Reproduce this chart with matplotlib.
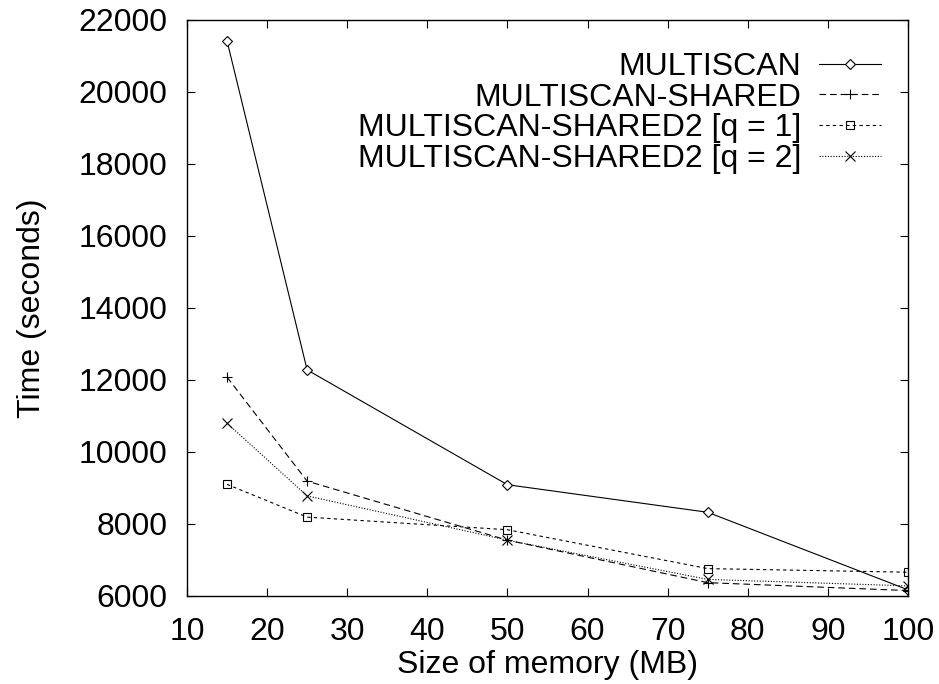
import matplotlib
matplotlib.use("Agg")
import matplotlib.pyplot as plt

plt.rcParams['font.family'] = ['Liberation Sans', 'DejaVu Sans']

memoria = [15, 25, 50, 75, 100]
multiscan = [21420, 12280, 9090, 8325, 6170]
shared = [12080, 9190, 7550, 6370, 6150]
shared2_q1 = [9100, 8190, 7840, 6760, 6660]
shared2_q2 = [10800, 8780, 7550, 6460, 6280]

rotulos = ["MULTISCAN", "MULTISCAN-SHARED",
           "MULTISCAN-SHARED2 [q = 1]", "MULTISCAN-SHARED2 [q = 2]"]

xticks = list(range(10, 101, 10))
yticks = list(range(6000, 22001, 2000))

FS = 23


def graphic():
    fig = plt.figure(figsize=(9.39, 6.84), dpi=100)
    ax = fig.add_axes([0.1991, 0.1287, 0.7679, 0.8421])

    lw = 0.8
    ax.plot(memoria, multiscan, color='black', lw=lw, linestyle='-',
            marker='D', ms=4.6, mfc='white', mec='black', mew=0.8, label=rotulos[0])
    ax.plot(memoria, shared, color='black', lw=lw, linestyle=(0, (6, 3.5)),
            marker='+', ms=6.5, mew=0.8, label=rotulos[1])
    ax.plot(memoria, shared2_q1, color='black', lw=lw, linestyle=(0, (3, 3)),
            marker='s', ms=6.3, mfc='none', mec='black', mew=0.8, label=rotulos[2])
    ax.plot(memoria, shared2_q2, color='black', lw=lw, linestyle=(0, (1, 1.5)),
            marker='x', ms=6.5, mew=0.8, label=rotulos[3])

    ax.set_xlim(10, 100)
    ax.set_ylim(6000, 22000)
    ax.set_xticks(xticks)
    ax.set_yticks(yticks)
    ax.tick_params(axis='both', direction='in', length=6, width=0.8,
                   top=True, right=True, labelsize=FS)
    ax.tick_params(axis='x', pad=15)
    ax.tick_params(axis='y', pad=14)
    for s in ax.spines.values():
        s.set_linewidth(1.0)

    ax.set_xlabel('Size of memory (MB)', fontsize=FS, labelpad=2)
    ax.set_ylabel('Time (seconds)', fontsize=FS, labelpad=23)

    ax.legend(loc='upper right', bbox_to_anchor=(1 - 27 / 721, 1 - 32 / 576),
              borderaxespad=0, borderpad=0, frameon=False, markerfirst=False,
              fontsize=FS, handlelength=1.95, handletextpad=0.55,
              labelspacing=0.02)

    fig.savefig('out.png', dpi=100)


def main():
    graphic()


if __name__ == "__main__":
    main()
